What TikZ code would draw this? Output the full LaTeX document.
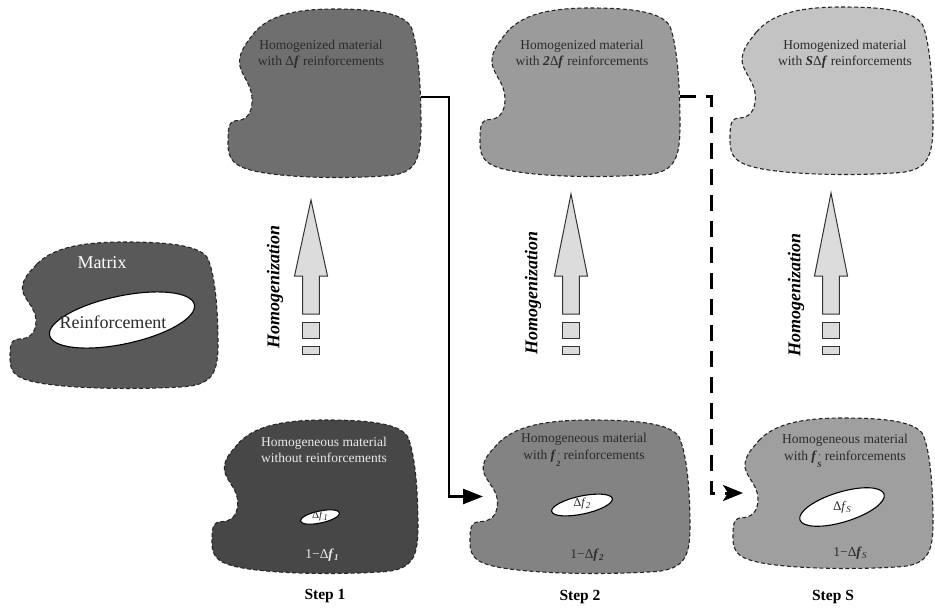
\documentclass[tikz,border=0pt]{standalone}
\usepackage{fontspec}
\setmainfont{Liberation Serif}
\usetikzlibrary{arrows.meta,shapes.geometric}
\definecolor{cmat}{HTML}{595959}
\definecolor{ctopa}{HTML}{6F6F6F}
\definecolor{ctopb}{HTML}{9B9B9B}
\definecolor{ctopc}{HTML}{C3C3C3}
\definecolor{cbota}{HTML}{474747}
\definecolor{cbotb}{HTML}{838383}
\definecolor{cbotc}{HTML}{9F9F9F}
\definecolor{carrow}{HTML}{DCDCDC}
\definecolor{cdtext}{HTML}{2B2B2B}
\definecolor{cltext}{HTML}{EAEAEA}
\newcommand\bif[1]{\textbf{\textit{#1}}}
\newcommand\mysb[1]{\raisebox{-0.35ex}{\fontsize{9}{9}\selectfont #1}}
\newcommand\mysbp[1]{\raisebox{-1.2ex}{\fontsize{8}{6.5}\selectfont\shortstack[l]{\,’\\#1}}}
\newcommand\lbl{\fontsize{13.5}{16.5}\selectfont}
\tikzset{
  blobline/.style={draw=black!85, line width=1.1pt, dash pattern=on 4pt off 2.5pt},
  blobbox/.style={draw=none, inner sep=0pt, outer sep=0pt},
  harrow/.style={draw=black!80, fill=carrow, line width=1pt, line join=miter},
  reinf/.style={ellipse, draw=black, fill=white, line width=1.1pt, inner sep=0pt},
  conn/.style={line width=2.5pt, -{Triangle[length=20pt,width=15pt]}},
  dconn/.style={line width=3pt, dash pattern=on 16pt off 10pt, -{Stealth[length=20pt,width=16pt,inset=5pt]}},
  txt/.style={font=\lbl, align=center, text=cdtext, inner sep=0pt},
  steplbl/.style={font=\fontsize{15.5}{18}\selectfont\bfseries, inner sep=0pt},
  homlbl/.style={font=\fontsize{18}{20}\selectfont\bfseries\itshape, rotate=90, inner sep=0pt}
}
\newcommand\myblob[6]{%
  \begin{scope}[shift={(#1,#2)},xscale=#3,yscale=#4]
    \filldraw[blobline,fill=#5] (0.13,0.15)
      .. controls (0.20,0.05) and (0.32,0.0) .. (0.55,0.0)
      .. controls (0.75,0.0) and (0.91,0.02) .. (0.95,0.11)
      .. controls (0.985,0.22) and (1.0,0.45) .. (1.0,0.7)
      .. controls (1.0,0.9) and (0.97,0.97) .. (0.85,0.99)
      .. controls (0.65,1.01) and (0.35,1.01) .. (0.16,0.97)
      .. controls (0.03,0.94) and (0.0,0.9) .. (0.0,0.8)
      .. controls (0.0,0.72) and (0.0,0.67) .. (0.04,0.665)
      .. controls (0.09,0.665) and (0.125,0.63) .. (0.125,0.54)
      .. controls (0.125,0.45) and (0.07,0.40) .. (0.06,0.33)
      .. controls (0.055,0.25) and (0.10,0.20) .. cycle;
  \end{scope}
  \node[blobbox, minimum width=#3pt, minimum height=#4pt] (#6) at (#1+#3/2,#2+#4/2) {};
}
\newcommand\homarrow[2]{%
  \filldraw[harrow] (#1,#2) -- (#1+16.5,276) -- (#1+8.3,276) -- (#1+8.3,314)
     -- (#1-8.3,314) -- (#1-8.3,276) -- (#1-16.5,276) -- cycle;
  \filldraw[harrow] (#1-8.3,322) rectangle (#1+8.3,338);
  \filldraw[harrow] (#1-8.3,346) rectangle (#1+8.3,354);
}
\begin{document}
\begin{tikzpicture}[x=1pt,y=-1pt]
\useasboundingbox (0,0) rectangle (935,611);

% matrix blob
\myblob{10}{242}{208}{146}{cmat}{m0}
\node[reinf, minimum width=148pt, minimum height=48pt, rotate=12] (e0) at (122,320) {};
\node[font=\fontsize{18}{20}\selectfont, text=white, inner sep=0pt] (tm) at (102,263) {Matrix};
\node[font=\fontsize{18}{20}\selectfont, text=cdtext, inner sep=0pt] (tr) at (113,322) {Reinforcement};

% top row
\myblob{228}{9}{193}{168}{ctopa}{t1}
\myblob{480}{8}{200}{168}{ctopb}{t2}
\myblob{730}{7}{203}{167}{ctopc}{t3}
\node[txt] (tt1) at (321,54) {Homogenized material\\with Δ\bif{f} reinforcements};
\node[txt] (tt2) at (582,54) {Homogenized material\\with \bif{2}Δ\bif{f} reinforcements};
\node[txt] (tt3) at (845,54) {Homogenized material\\with \bif{S}Δ\bif{f} reinforcements};

% bottom row
\myblob{212}{420}{206}{153}{cbota}{b1}
\myblob{470}{420}{220}{153}{cbotb}{b2}
\myblob{733}{418}{200}{150}{cbotc}{b3}
\node[txt, text=cltext] (bt1) at (324,450) {Homogeneous material\\without reinforcements};
\node[txt] (bt2) at (584,450) {Homogeneous material\\with \bif{f}\mysbp{\bif{2}} reinforcements};
\node[txt] (bt3) at (845,451) {Homogeneous material\\with \bif{f}\mysbp{\bif{S}} reinforcements};

\node[reinf, minimum width=40pt, minimum height=12pt, rotate=12] (e1) at (320,517) {};
\node[reinf, minimum width=62pt, minimum height=18pt, rotate=12] (e2) at (582,505) {};
\node[reinf, minimum width=88pt, minimum height=30pt, rotate=17] (e3) at (842,507) {};
\node[font=\fontsize{11}{12}\selectfont, text=cdtext, inner sep=0pt] (et1) at (320,516) {Δ\textit{f}\mysb{\textit{1}}};
\node[font=\fontsize{12}{13}\selectfont, text=cdtext, inner sep=0pt] (et2) at (582,504) {Δ\textit{f}\mysb{\textit{2}}};
\node[font=\fontsize{13}{14}\selectfont, text=cdtext, inner sep=0pt] (et3) at (842,507) {Δ\textit{f}\mysb{\textit{S}}};

\node[font=\lbl, text=cltext, inner sep=0pt] (ft1) at (322,555) {1−Δ\bif{f}\mysb{\bif{1}}};
\node[font=\lbl, text=cdtext, inner sep=0pt] (ft2) at (587,555) {1−Δ\bif{f}\mysb{\bif{2}}};
\node[font=\lbl, text=cdtext, inner sep=0pt] (ft3) at (850,553) {1−Δ\bif{f}\mysb{\textit{S}}};

% homogenization arrows
\homarrow{311}{200}
\homarrow{571}{194}
\homarrow{831}{193}
\node[homlbl] (h1) at (275,287) {Homogenization};
\node[homlbl] (h2) at (533,293) {Homogenization};
\node[homlbl] (h3) at (796,295) {Homogenization};

% step labels
\node[steplbl] (s1) at (325,596) {Step 1};
\node[steplbl] (s2) at (580,597) {Step 2};
\node[steplbl] (s3) at (833,597) {Step S};

% connectors
\draw[conn] ([yshift=-4pt]t1.east) -- ++(28,0) |- ([xshift=13pt]b2.west);
\draw[dconn] ([yshift=-4pt]t2.east) -- ++(31,0) |- ([xshift=10pt]b3.west);
\end{tikzpicture}
\end{document}
